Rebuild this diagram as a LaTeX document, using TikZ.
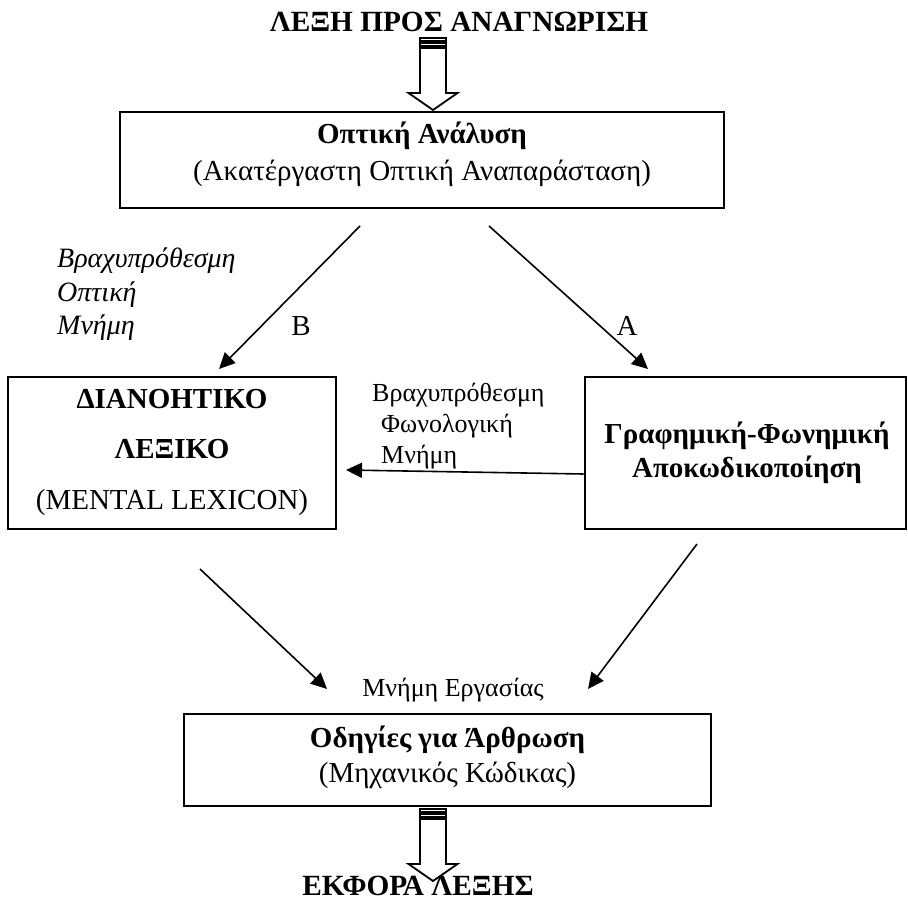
\documentclass[tikz,border=0pt]{standalone}
\usepackage{fontspec}
\setmainfont{Liberation Serif}
\usetikzlibrary{arrows.meta}

\begin{document}
\begin{tikzpicture}[
    x=1pt,
    y=-1pt,
    font=\fontsize{29}{37}\selectfont,
    box/.style={
        draw,
        line width=2.8pt,
        inner sep=0pt
    },
    txt/.style={align=center, inner sep=0pt},
    note/.style={align=left, inner sep=0pt, font=\fontsize{26}{31}\selectfont},
    arrow/.style={-{Triangle[length=16pt,width=15pt]}, line width=1.6pt},
    hollow/.style={draw, line width=1.8pt, fill=white, line join=miter},
    stripedarrow/.pic={
        \draw[hollow] (-13,0) rectangle (13,3);
        \draw[hollow] (-13,5) rectangle (13,8);
        \draw[hollow] (-13,10) -- (-13,55) -- (-24.5,55) -- (0,72)
            -- (24.5,55) -- (13,55) -- (13,10) -- cycle;
    }
]
\useasboundingbox (0,0) rectangle (908,904);

% ============================================================
% ΕΙΣΟΔΟΣ
% ============================================================
\node[txt, font=\fontsize{29.3}{35}\selectfont\bfseries] (word) at (459,22) {ΛΕΞΗ ΠΡΟΣ ΑΝΑΓΝΩΡΙΣΗ};
\pic at (433,38) {stripedarrow};

\node[box, minimum width=604pt, minimum height=96pt] (visual) at (422,160) {};
\node[txt] (visualtext) at (422,154.5) {\textbf{Οπτική Ανάλυση}\\(Ακατέργαστη Οπτική Αναπαράσταση)};

% ============================================================
% ΔΥΟ ΟΔΟΙ: B και A
% ============================================================
\node[box, minimum width=328pt, minimum height=152pt] (lexicon) at (172,453) {};
\node[txt, font=\fontsize{29}{50.5}\selectfont] (lexicontext) at (172,452)
    {\textbf{ΔΙΑΝΟΗΤΙΚΟ}\\\textbf{ΛΕΞΙΚΟ}\\(MENTAL LEXICON)};

\node[box, minimum width=321pt, minimum height=152pt] (decode) at (745.5,453) {};
\node[txt, font=\fontsize{29}{34}\selectfont\bfseries] (decodetext) at (747,453)
    {Γραφημική-Φωνημική\\Αποκωδικοποίηση};

\coordinate (bfrom) at (360,226);
\coordinate (bto) at (219,369);
\coordinate (afrom) at (489,226);
\coordinate (ato) at (648,369);

\draw[arrow] (bfrom) -- (bto);
\draw[arrow] (afrom) -- (ato);

\node[txt] (blabel) at (301,326) {B};
\node[txt] (alabel) at (627,326) {A};
\node[note, font=\fontsize{28}{33.5}\selectfont\itshape, anchor=west] (visualmem) at (57,294.5)
    {Βραχυπρόθεσμη\\Οπτική\\Μνήμη};

% φωνολογική μνήμη
\coordinate (phonto) at (346,470);
\draw[arrow] ([yshift=-21pt]decode.west) -- (phonto);
\node[note, anchor=west] (phonmem) at (372,426)
    {Βραχυπρόθεσμη\\\hspace*{9pt}Φωνολογική\\\hspace*{9pt}Μνήμη};

% ============================================================
% ΕΞΟΔΟΣ
% ============================================================
\coordinate (lfrom) at (200,569);
\coordinate (lto) at (327,689);
\coordinate (rfrom) at (697,544);
\coordinate (rto) at (588,689);

\draw[arrow] (lfrom) -- (lto);
\draw[arrow] (rfrom) -- (rto);

\node[note] (workmem) at (453,690) {Μνήμη Εργασίας};

\node[box, minimum width=527pt, minimum height=92pt] (artic) at (447.5,760) {};
\node[txt, font=\fontsize{29}{35}\selectfont] (artictext) at (447.5,757)
    {\textbf{Οδηγίες για Άρθρωση}\\(Μηχανικός Κώδικας)};

\pic at (433,809) {stripedarrow};
\node[txt, font=\fontsize{29.3}{35}\selectfont\bfseries] (speech) at (418,886) {ΕΚΦΟΡΑ ΛΕΞΗΣ};

\end{tikzpicture}
\end{document}
